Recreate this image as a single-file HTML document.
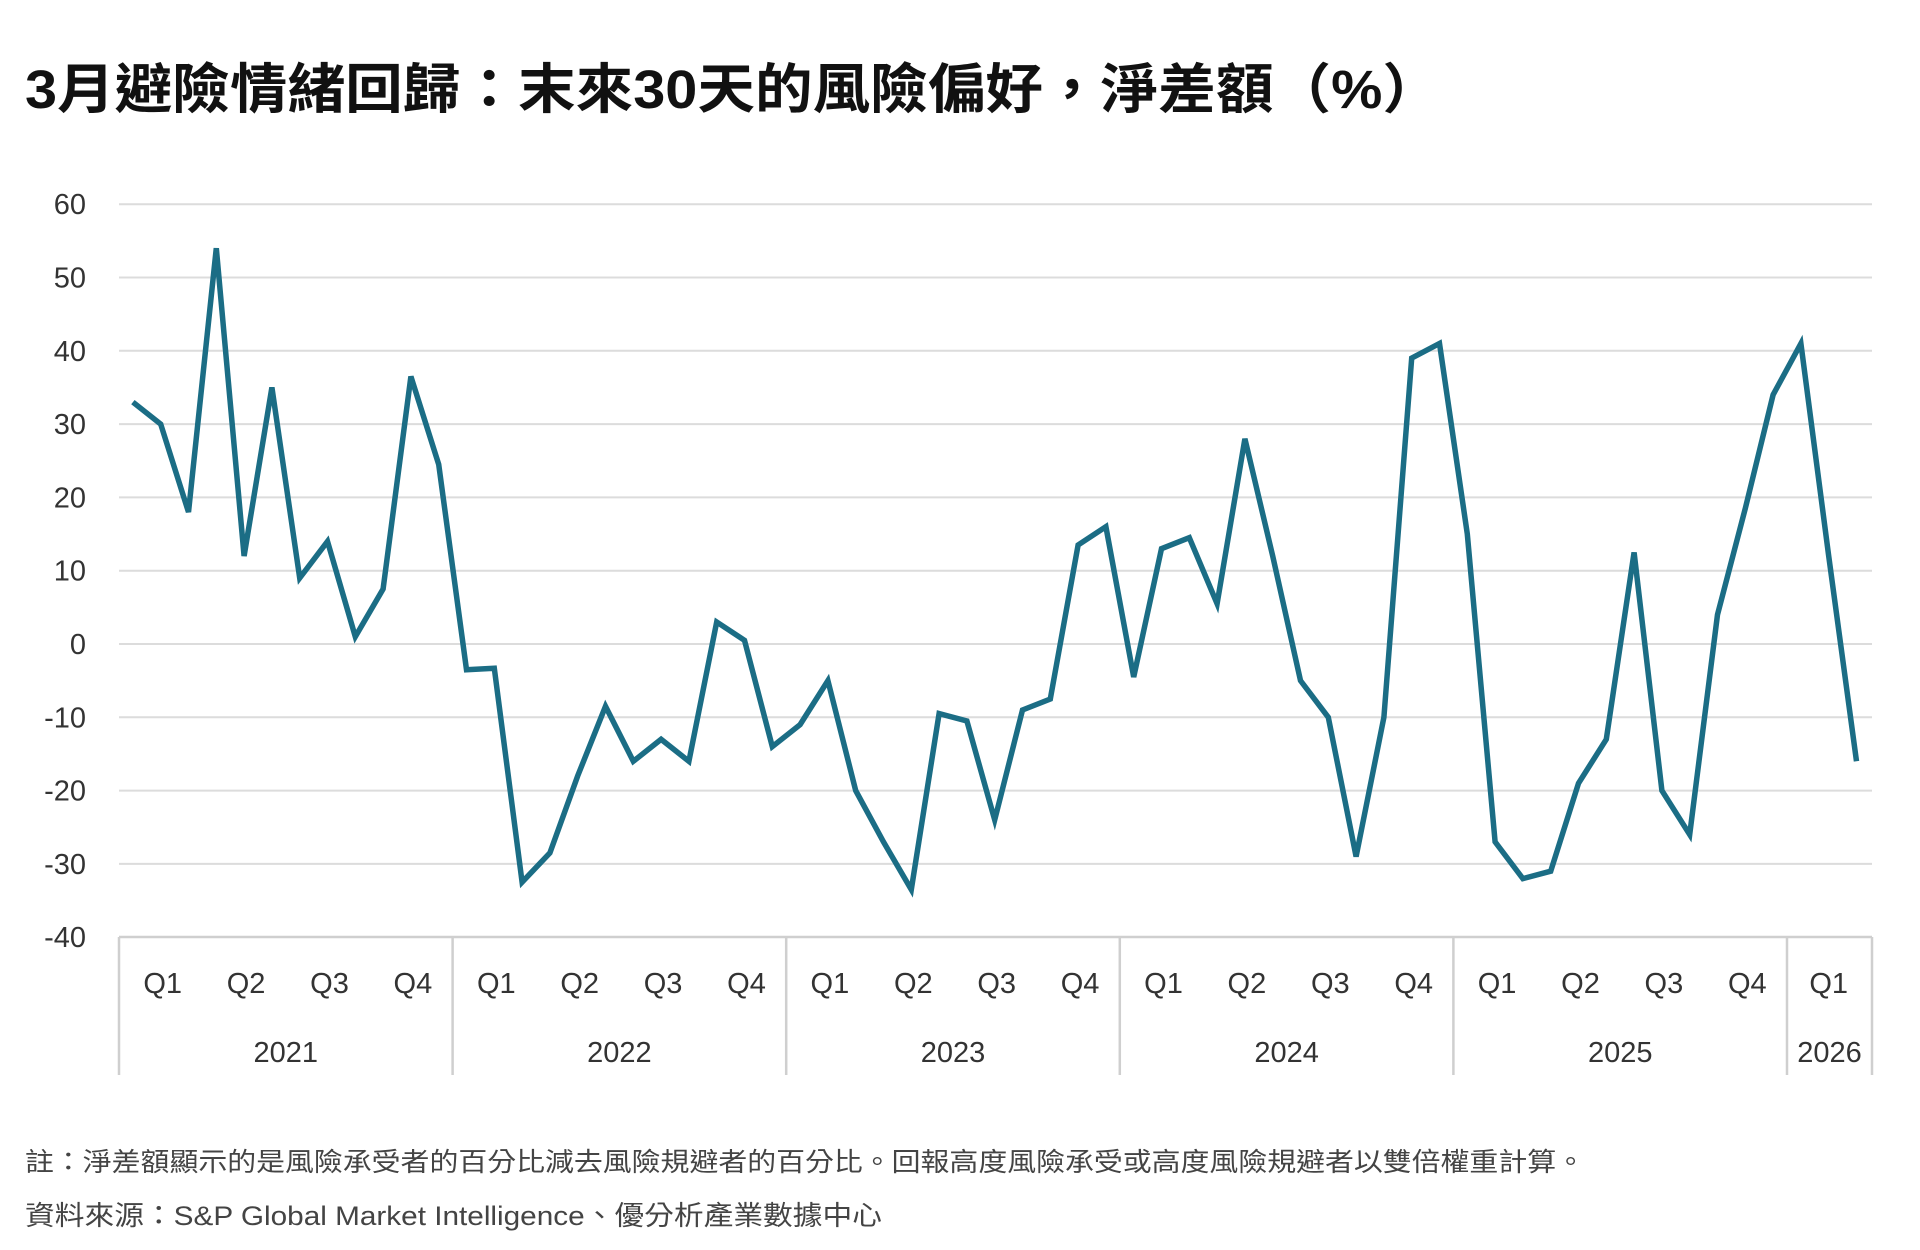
<!DOCTYPE html>
<html><head><meta charset="utf-8"><style>
html,body{margin:0;padding:0;background:#fff;}
svg{display:block;}
text{font-family:"Liberation Sans","Noto Sans CJK TC",sans-serif;}
</style></head><body>
<svg id="s" width="1920" height="1250" viewBox="0 0 1920 1250" xmlns="http://www.w3.org/2000/svg">
<text x="25" y="108" font-size="54" font-weight="bold" fill="#111" textLength="1415" lengthAdjust="spacingAndGlyphs">3月避險情緒回歸：末來30天的風險偏好，淨差額（%）</text>
<g id="grid" stroke="#dcdcdc" stroke-width="2"></g>
<g id="ylab" font-size="29" fill="#333" text-anchor="end"></g>
<g id="xax" stroke="#cfcfcf" stroke-width="2.5"></g>
<g id="xlab" font-size="29" fill="#333" text-anchor="middle"></g>
<polyline id="line" fill="none" stroke="#1b6d85" stroke-width="5.5" stroke-linejoin="miter" points=""/>
<text x="25" y="1171" font-size="26" fill="#444" textLength="1560" lengthAdjust="spacingAndGlyphs">註：淨差額顯示的是風險承受者的百分比減去風險規避者的百分比。回報高度風險承受或高度風險規避者以雙倍權重計算。</text>
<text x="25" y="1225" font-size="27" fill="#444" textLength="857" lengthAdjust="spacingAndGlyphs">資料來源：S&amp;P Global Market Intelligence、優分析產業數據中心</text>
</svg>
<script>
var NS="http://www.w3.org/2000/svg";
function el(p,t,a,txt){var e=document.createElementNS(NS,t);for(var k in a)e.setAttribute(k,a[k]);if(txt!==undefined)e.textContent=txt;document.getElementById(p).appendChild(e);}
var L=119,R=1872,y0=644,step=7.33;
function Y(v){return y0-v*step;}
for(var v=60;v>=-40;v-=10){
  if(v>-40) el('grid','line',{x1:L,x2:R,y1:Y(v),y2:Y(v)});
  el('ylab','text',{x:86,y:Y(v)+10},String(v));
}
el('xax','line',{x1:L,x2:R,y1:937,y2:937});
var mw=27.8;
var years=['2021','2022','2023','2024','2025','2026'];
for(var i=0;i<=5;i++){el('xax','line',{x1:L+i*12*mw,x2:L+i*12*mw,y1:937,y2:1075});}
el('xax','line',{x1:R,x2:R,y1:937,y2:1075});
for(var i=0;i<5;i++){
  var x0=L+i*12*mw;
  for(var q=0;q<4;q++) el('xlab','text',{x:x0+(q*3+1.5)*mw+2,y:993},'Q'+(q+1));
  el('xlab','text',{x:x0+6*mw,y:1062},years[i]);
}
el('xlab','text',{x:L+60*mw+1.5*mw,y:993},'Q1');
el('xlab','text',{x:(L+60*mw+R)/2,y:1062},'2026');
var d=[33,30,18,54,12,35,9,14,1,7.5,36.5,24.5,
-3.5,-3.3,-32.5,-28.5,-18,-8.5,-16,-13,-16,3,0.5,-14,
-11,-5,-20,-27,-33.5,-9.5,-10.5,-24,-9,-7.5,13.5,16,
-4.5,13,14.5,5.5,28,12,-5,-10,-29,-10,39,41,
15,-27,-32,-31,-19,-13,12.5,-20,-26,4,18.5,34,
41,12,-16];
var pts=d.map(function(v,i){return (L+(i+0.5)*mw).toFixed(1)+','+Y(v).toFixed(1);}).join(' ');
document.getElementById('line').setAttribute('points',pts);
</script>
</body></html>
